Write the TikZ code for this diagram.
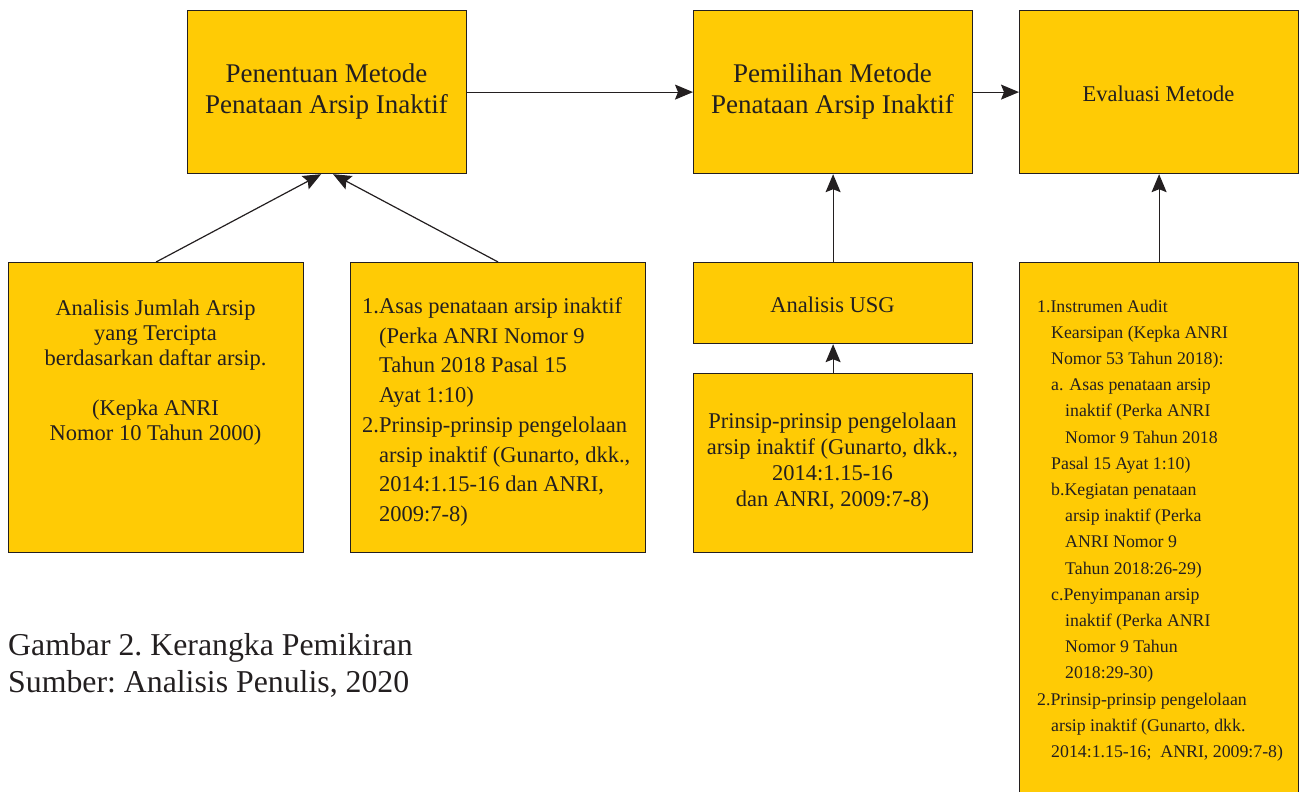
\documentclass[tikz,border=0pt]{standalone}
\usepackage{fontspec}
\setmainfont{Liberation Serif}
\newfontfamily\tnr{Liberation Serif}
\usetikzlibrary{arrows.meta,calc}
\definecolor{boxfill}{RGB}{255,203,5}
\definecolor{ink}{RGB}{35,31,32}
\tikzset{
  box/.style={draw=ink, line width=1.2pt, fill=boxfill, inner sep=0pt, anchor=north west},
  txt/.style={inner sep=0pt, text=ink},
  big/.style={font=\tnr\fontsize{27}{31}\selectfont, align=center},
  mid/.style={font=\tnr\fontsize{22.5}{25}\selectfont, align=center},
  conn/.style={draw=ink, line width=1.2pt, -{Stealth[length=18pt,width=15pt,inset=3pt]}},
}
\begin{document}
\begin{tikzpicture}[x=1pt,y=-1pt]
\useasboundingbox (0,0) rectangle (1301,792);
% boxes
\node[box, minimum width=279pt, minimum height=163pt] (A) at (187,10) {};
\node[box, minimum width=279pt, minimum height=163pt] (B) at (693,10) {};
\node[box, minimum width=279pt, minimum height=163pt] (C) at (1019,10) {};
\node[box, minimum width=295pt, minimum height=290pt] (D) at (8,262) {};
\node[box, minimum width=295pt, minimum height=290pt] (E) at (350,262) {};
\node[box, minimum width=279pt, minimum height=81pt] (F) at (693,262) {};
\node[box, minimum width=279pt, minimum height=179pt] (G) at (693,373) {};
\node[box, minimum width=279pt, minimum height=540pt] (H) at (1019,262) {};
% texts
\node[txt, big] (tA) at (326.5,91.5) {Penentuan Metode\\Penataan Arsip Inaktif};
\node[txt, big] (tB) at (832.5,91.5) {Pemilihan Metode\\Penataan Arsip Inaktif};
\node[txt, mid] (tC) at (1158.5,94) {Evaluasi Metode};
\node[txt, mid] (tD) at (155.5,373) {Analisis Jumlah Arsip\\yang Tercipta\\berdasarkan daftar arsip.\\[25pt](Kepka ANRI\\Nomor 10 Tahun 2000)};
\node[txt, font=\tnr\fontsize{22.5}{29.7}\selectfont, align=left, anchor=west] (tE) at (362,412)
 {1.Asas penataan arsip inaktif\\
  \phantom{1.}(Perka ANRI Nomor 9\\
  \phantom{1.}Tahun 2018 Pasal 15\\
  \phantom{1.}Ayat 1:10)\\
  2.Prinsip-prinsip pengelolaan\\
  \phantom{1.}arsip inaktif (Gunarto, dkk.,\\
  \phantom{1.}2014:1.15-16 dan ANRI,\\
  \phantom{1.}2009:7-8)};
\node[txt, mid] (tF) at (832.5,305) {Analisis USG};
\node[txt, font=\tnr\fontsize{22.5}{26}\selectfont, align=center] (tG) at (832.5,462)
 {Prinsip-prinsip pengelolaan\\arsip inaktif (Gunarto, dkk.,\\2014:1.15-16\\dan ANRI, 2009:7-8)};
\node[txt, font=\tnr\fontsize{17.8}{26.2}\selectfont, align=left, anchor=west] (tH) at (1037,530.5)
 {1.Instrumen Audit\\
  \hspace*{14pt}Kearsipan (Kepka ANRI\\
  \hspace*{14pt}Nomor 53 Tahun 2018):\\
  \hspace*{14pt}a. Asas penataan arsip\\
  \hspace*{28pt}inaktif (Perka ANRI\\
  \hspace*{28pt}Nomor 9 Tahun 2018\\
  \hspace*{14pt}Pasal 15 Ayat 1:10)\\
  \hspace*{14pt}b.Kegiatan penataan\\
  \hspace*{28pt}arsip inaktif (Perka\\
  \hspace*{28pt}ANRI Nomor 9\\
  \hspace*{28pt}Tahun 2018:26-29)\\
  \hspace*{14pt}c.Penyimpanan arsip\\
  \hspace*{28pt}inaktif (Perka ANRI\\
  \hspace*{28pt}Nomor 9 Tahun\\
  \hspace*{28pt}2018:29-30)\\
  2.Prinsip-prinsip pengelolaan\\
  \hspace*{14pt}arsip inaktif (Gunarto, dkk.\\
  \hspace*{14pt}2014:1.15-16;\ \ ANRI, 2009:7-8)};
\node[txt, font=\tnr\fontsize{31.8}{37}\selectfont, align=left, anchor=west] (cap) at (8,665.5)
 {Gambar 2.\ Kerangka Pemikiran\\Sumber:\ Analisis Penulis, 2020};
% connectors
\draw[conn] (A.east) -- (B.west);
\draw[conn] (B.east) -- (C.west);
\draw[conn] (D.north) -- ($(A.south)+(-6,0)$);
\draw[conn] (E.north) -- ($(A.south)+(6,0)$);
\draw[conn] (F.north) -- (B.south);
\draw[conn] (G.north) -- (F.south);
\draw[conn] (H.north) -- (C.south);
\end{tikzpicture}
\end{document}
